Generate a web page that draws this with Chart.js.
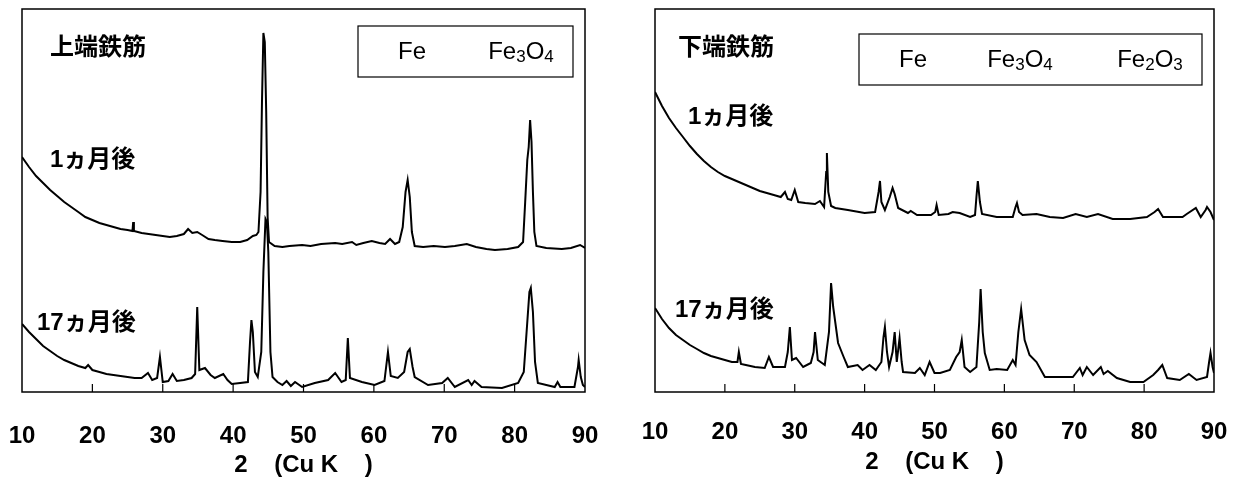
<!DOCTYPE html>
<html>
<head>
<meta charset="utf-8">
<script src="https://cdn.jsdelivr.net/npm/chart.js@4.4.1/dist/chart.umd.min.js"></script>
<style>
body { margin: 0; background: #fff; width: 1237px; height: 477px; overflow: hidden; position: relative; }
canvas { position: absolute; top: 0; }
#upperChart { left: 0; }
#lowerChart { left: 620px; }
</style>
</head>
<body>
<canvas id="upperChart" width="620" height="477"></canvas>
<canvas id="lowerChart" width="617" height="477"></canvas>
<script>
// 2theta tick labels
const xTicks = [10, 20, 30, 40, 50, 60, 70, 80, 90];

// upper bar (上端鉄筋), [2theta, intensity a.u.]
const upper1m = [
    [10,235],[11,225],[12,216],[13,209],[14,202],[15,196],[16,190],[17,185],[18,180],[19,175],
    [20,172],[21,169],[22,167],[23,165],[24,163],[25,162],[25.7,161],[25.8,170],[25.9,161],[27,159],
    [28,158],[29,157],[30,156],[31,155],[32,156],[33,158],[33.6,163],[34.2,159],[34.9,160],[35.6,157],
    [36.5,153],[37.4,152],[38.5,151],[39.8,150],[41,150],[42,152],[42.8,156],[43.3,157],[43.6,160],[43.9,200],
    [44.1,290],[44.3,359],[44.5,350],[44.7,280],[44.9,175],[45.1,150],[45.9,146],[47,145],[48,146],[49.8,147],
    [51,146],[52.5,148],[54.5,149],[55.5,148],[56.9,150],[57.5,147],[58.5,149],[59.7,151],[60.8,149],[61.6,148],
    [62.3,153],[63,148],[63.6,150],[64.1,165],[64.5,200],[64.8,212],[65.1,195],[65.4,160],[65.8,146],[67,145],
    [68.5,146],[70.1,145],[71.5,146],[73.2,148],[74.5,145],[76,143],[77.2,142],[79,143],[80.5,145],[81.2,150],
    [81.5,190],[81.8,232],[82,245],[82.2,272],[82.4,250],[82.6,200],[82.8,160],[83.1,146],[84.5,144],[86.7,143],
    [88,144],[89.3,147],[90,144]
];
const upper17m = [
    [10,68],[11,60],[12,53],[13,46],[14,41],[15,36],[16,32],[17,29],[18,26],[19,24],
    [19.4,27],[20,22],[21,20],[22,18],[23,17],[24,16],[25,15],[26,14],[27,14],[27.9,19],
    [28.5,12],[29.2,14],[29.6,35],[30,10],[30.8,11],[31.4,18],[32,11],[33,12],[34.1,14],[34.6,18],
    [34.9,85],[35.2,22],[36,24],[36.8,17],[37.4,14],[38.6,18],[39.2,12],[39.8,8],[41,9],[42.1,10],
    [42.4,50],[42.6,72],[42.8,60],[43.1,20],[43.5,15],[44,40],[44.3,120],[44.6,173],[44.8,170],[45,140],
    [45.3,40],[45.6,15],[46.3,10],[47,7],[47.6,11],[48.2,6],[48.8,10],[49.8,5],[51.6,9],[53.5,12],
    [54.5,19],[55.4,10],[56,12],[56.3,54],[56.6,14],[58.3,10],[60.1,7],[61.5,11],[62,40],[62.4,16],
    [63.4,14],[64.3,20],[64.8,40],[65.1,43],[65.5,25],[65.8,15],[67.7,7],[69.7,9],[70.5,14],[71.5,5],
    [73.4,12],[73.9,7],[74.3,11],[75.3,5],[78.2,4],[80.5,9],[81.3,20],[81.8,70],[82.1,100],[82.3,104],
    [82.6,80],[82.9,30],[83.3,9],[85.7,5],[86.1,10],[86.5,5],[88.5,5],[89,25],[89.1,32],[89.4,15],
    [89.7,7],[90,5]
];

// lower bar (下端鉄筋)
const lower1m = [
    [10,300],[11,286],[12,274],[13,264],[14,255],[15,246],[16,238],[17,231],[18,225],[19,220],
    [20,216],[21,213],[22,210],[23,207],[24,204],[25,201],[26,199],[27,197],[28,195],[28.6,200],
    [29,193],[29.5,192],[30,202],[30.5,190],[31.5,189],[32.9,188],[33.6,191],[34.2,185],[34.5,220],[34.6,239],
    [34.8,200],[35.2,186],[35.8,184],[37.6,182],[40,179],[41.5,180],[42,200],[42.2,211],[42.4,190],[42.9,182],
    [43.6,195],[44,204],[44.3,198],[44.8,184],[46.2,179],[46.6,181],[47.5,177],[48.6,177],[49.5,177],[50.1,180],
    [50.3,187],[50.6,177],[52,178],[52.6,180],[53.6,179],[55.1,175],[55.8,177],[56,195],[56.2,211],[56.5,190],
    [56.8,178],[58.9,175],[61.2,175],[61.6,185],[61.8,189],[62.1,180],[62.6,177],[64.6,178],[66.5,175],[68.4,174],
    [70.2,178],[71.8,175],[73.4,178],[75.5,173],[78,173],[80.4,175],[81.5,180],[82,183],[82.7,175],[85.5,175],
    [86.1,178],[87.4,184],[88.1,175],[88.8,182],[89,185],[89.5,180],[90,172]
];
const lower17m = [
    [10,84],[11,73],[12,64],[13,57],[14,52],[15,47],[16,43],[17,39],[18,36],[19,34],
    [20,32],[21,30],[21.8,30],[22,40],[22.3,28],[23,27],[24.3,25],[25.7,24],[26.3,35],[26.9,25],
    [28.6,25],[29,40],[29.3,65],[29.6,32],[30.2,34],[31.2,25],[32.3,29],[32.7,40],[32.9,60],[33.3,32],
    [34.3,27],[34.9,60],[35.2,109],[35.5,85],[36.2,49],[37,35],[37.6,25],[39,27],[39.7,22],[40.7,27],
    [41.6,22],[42.4,30],[42.7,55],[42.9,65],[43.2,40],[43.5,25],[44,40],[44.3,60],[44.6,30],[45,54],
    [45.3,30],[45.5,20],[47.2,19],[47.9,24],[48.6,17],[49.3,30],[50,19],[50.8,19],[52.2,22],[53.1,35],
    [53.6,40],[53.9,52],[54.3,25],[55.1,20],[56,25],[56.4,70],[56.6,103],[56.9,60],[57.2,39],[57.9,22],
    [58.9,23],[60.4,22],[61.2,32],[61.6,27],[62,60],[62.4,83],[62.9,52],[63.6,37],[64.6,30],[65.8,15],
    [68.4,15],[69.8,15],[70.8,24],[71.2,17],[71.8,25],[72.7,17],[73.8,25],[74.2,18],[74.8,21],[76.1,14],
    [78,10],[79.9,10],[81.3,17],[82,22],[82.6,27],[83.3,14],[85.1,12],[86.4,18],[87.5,12],[89,15],
    [89.3,30],[89.5,39],[89.8,25],[90,19]
];

const latinFont = '"Liberation Sans", Arial, sans-serif';
const jpFont = '"Liberation Sans", "Noto Sans CJK JP", sans-serif';

// frame, inward ticks, panel labels and the legend box
const framePlugin = {
    id: 'frame',
    afterDraw(chart, args, opts) {
        const ctx = chart.ctx;
        const area = chart.chartArea;
        const xs = chart.scales.x;
        ctx.save();
        ctx.strokeStyle = '#000';
        ctx.lineWidth = 1.5;
        ctx.strokeRect(area.left, area.top, area.right - area.left, area.bottom - area.top);

        ctx.lineWidth = 1.2;
        xs.ticks.forEach(t => {
            if (t.value <= xs.min || t.value >= xs.max) return;
            const px = xs.getPixelForValue(t.value);
            ctx.beginPath();
            ctx.moveTo(px, area.bottom);
            ctx.lineTo(px, area.bottom - 8);
            ctx.stroke();
        });

        ctx.fillStyle = '#000';
        ctx.textBaseline = 'middle';
        ctx.textAlign = 'left';
        ctx.font = 'bold 24px ' + jpFont;
        opts.labels.forEach(l => ctx.fillText(l.text, l.x, l.y));

        const b = opts.legend.box;
        ctx.lineWidth = 1.2;
        ctx.strokeRect(b[0], b[1], b[2] - b[0], b[3] - b[1]);
        opts.legend.items.forEach(it => drawFormula(ctx, it.text, it.cx, opts.legend.y));
        ctx.restore();
    }
};

function drawFormula(ctx, text, cx, cy) {
    const big = '24px ' + latinFont;
    const small = '17px ' + latinFont;
    const parts = text.match(/[A-Za-z]+|\d+/g);
    let width = 0;
    parts.forEach(p => {
        ctx.font = /\d/.test(p) ? small : big;
        width += ctx.measureText(p).width;
    });
    let x = cx - width / 2;
    ctx.textAlign = 'left';
    ctx.textBaseline = 'middle';
    parts.forEach(p => {
        const sub = /\d/.test(p);
        ctx.font = sub ? small : big;
        ctx.fillText(p, x, sub ? cy + 5 : cy);
        x += ctx.measureText(p).width;
    });
}

function makeChart(id, series, frameOpts, pad, axisHeight, tickPad, titlePad) {
    return new Chart(document.getElementById(id), {
        type: 'line',
        data: {
            datasets: series.map(s => ({
                data: s.map(p => ({ x: p[0], y: p[1] })),
                borderColor: '#000',
                borderWidth: 2,
                pointRadius: 0,
                tension: 0,
                fill: false
            }))
        },
        options: {
            responsive: false,
            animation: false,
            layout: { padding: pad },
            plugins: {
                legend: { display: false },
                tooltip: { enabled: false },
                frame: frameOpts
            },
            scales: {
                x: {
                    type: 'linear',
                    min: xTicks[0],
                    max: xTicks[xTicks.length - 1],
                    afterBuildTicks: scale => { scale.ticks = xTicks.map(v => ({ value: v })); },
                    afterFit: scale => {
                        scale.height = axisHeight;
                        scale.paddingLeft = 0;
                        scale.paddingRight = 0;
                    },
                    grid: { display: false, drawTicks: false },
                    border: { display: false },
                    ticks: {
                        color: '#000',
                        padding: tickPad,
                        maxRotation: 0,
                        font: { family: latinFont, size: 24, weight: 'bold' }
                    },
                    title: {
                        display: true,
                        text: '2    (Cu K    )',
                        color: '#000',
                        padding: { top: 0, bottom: titlePad },
                        font: { family: latinFont, size: 24, weight: 'bold', lineHeight: 1 }
                    }
                },
                y: { display: false, min: 0, max: 383 }
            }
        },
        plugins: [framePlugin]
    });
}

makeChart('upperChart', [upper1m, upper17m], {
    labels: [
        { text: '上端鉄筋', x: 50, y: 48 },
        { text: '1ヵ月後', x: 50, y: 160 },
        { text: '17ヵ月後', x: 37, y: 323 }
    ],
    legend: {
        box: [358, 26, 573, 77],
        y: 52,
        items: [{ text: 'Fe', cx: 412 }, { text: 'Fe3O4', cx: 521 }]
    }
}, { left: 22, right: 35, top: 9, bottom: 0 }, 85, 30, 0);

makeChart('lowerChart', [lower1m, lower17m], {
    labels: [
        { text: '下端鉄筋', x: 58, y: 48 },
        { text: '1ヵ月後', x: 68, y: 117 },
        { text: '17ヵ月後', x: 55, y: 310 }
    ],
    legend: {
        box: [239, 34, 582, 85],
        y: 60,
        items: [{ text: 'Fe', cx: 293 }, { text: 'Fe3O4', cx: 400 }, { text: 'Fe2O3', cx: 530 }]
    }
}, { left: 35, right: 23, top: 9, bottom: 0 }, 85, 26, 3);
</script>
</body>
</html>
